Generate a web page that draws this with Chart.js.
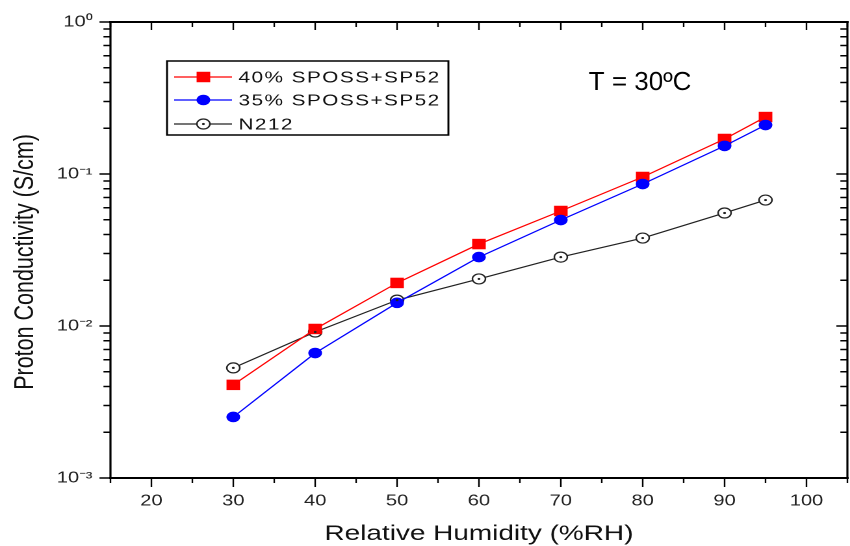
<!DOCTYPE html>
<html>
<head>
<meta charset="utf-8">
<script src="https://cdn.jsdelivr.net/npm/chart.js@4/dist/chart.umd.min.js"></script>
<style>
  html, body { margin: 0; background: #fff; }
</style>
</head>
<body>
<!-- the figure is a bit stretched sideways, so draw narrow and widen with an inline style -->
<canvas id="chart" width="654" height="546" style="width:850px;height:546px;display:block"></canvas>
<script>
const humidity = [30, 40, 50, 60, 70, 80, 90, 95]
const sposs40 = [0.0041, 0.00956, 0.0192, 0.0346, 0.0571, 0.0956, 0.170, 0.237]
const sposs35 = [0.00252, 0.00664, 0.0142, 0.0284, 0.0498, 0.0859, 0.153, 0.210]
const n212 = [0.0053, 0.00913, 0.0148, 0.0204, 0.0284, 0.0379, 0.0554, 0.0674]

const xTickValues = [15, 20, 25, 30, 35, 40, 45, 50, 55, 60, 65, 70, 75, 80, 85, 90, 95, 100, 105]
const yDecades = [0.001, 0.01, 0.1, 1]
const yTickLabels = ['10\u207B\u00B3', '10\u207B\u00B2', '10\u207B\u00B9', '10\u2070']
const note = 'T = 30\u00BAC'
const noteAt = [73.4, 0.357]

const FONT = "'Liberation Sans', Arial, sans-serif"

const yTickValues = yDecades.flatMap((d) =>
  d === 1 ? [1] : [1, 2, 3, 4, 5, 6, 7, 8, 9].map((m) => m * d)
)
const decadeIndex = (v) => yDecades.findIndex((d) => Math.abs(v - d) / d < 1e-9)

const points = (ys) => humidity.map((h, i) => ({ x: h, y: ys[i] }))

// open circle with a dot in the middle (N212 markers)
const centerDots = {
  id: 'centerDots',
  afterDatasetsDraw(chart) {
    const { ctx } = chart
    chart.data.datasets.forEach((ds, i) => {
      if (!ds.centerDot) return
      ctx.save()
      ctx.fillStyle = ds.borderColor
      chart.getDatasetMeta(i).data.forEach((p) => {
        ctx.beginPath()
        ctx.arc(p.x, p.y, 1.1, 0, Math.PI * 2)
        ctx.fill()
      })
      ctx.restore()
    })
  },
}

function drawMarker(ctx, ds, x, y) {
  ctx.fillStyle = ds.pointBackgroundColor
  ctx.strokeStyle = ds.pointBorderColor
  ctx.lineWidth = ds.pointBorderWidth
  ctx.beginPath()
  if (ds.pointStyle === 'rect') {
    const h = ds.pointRadius * Math.SQRT1_2
    ctx.rect(x - h, y - h, h * 2, h * 2)
  } else {
    ctx.arc(x, y, ds.pointRadius, 0, Math.PI * 2)
  }
  ctx.fill()
  if (ds.pointBorderWidth) ctx.stroke()
  if (ds.centerDot) {
    ctx.fillStyle = ds.borderColor
    ctx.beginPath()
    ctx.arc(x, y, 1.1, 0, Math.PI * 2)
    ctx.fill()
  }
}

const frame = {
  id: 'frame',
  afterDraw(chart) {
    const { ctx, chartArea: a, scales } = chart
    const x = scales.x
    const y = scales.y
    ctx.save()
    ctx.strokeStyle = '#000'

    ctx.lineWidth = 2
    ctx.beginPath()
    ctx.moveTo(a.left - 1, a.top); ctx.lineTo(a.right + 1, a.top)
    ctx.moveTo(a.left - 1, a.bottom); ctx.lineTo(a.right + 1, a.bottom)
    ctx.stroke()
    ctx.lineWidth = 1.6
    ctx.beginPath()
    ctx.moveTo(a.left, a.top); ctx.lineTo(a.left, a.bottom)
    ctx.moveTo(a.right, a.top); ctx.lineTo(a.right, a.bottom)
    ctx.stroke()

    // bottom ticks point out, top ticks point in
    ctx.lineWidth = 1.2
    ctx.beginPath()
    x.ticks.forEach((t) => {
      const px = x.getPixelForValue(t.value)
      const major = t.value % 10 === 0
      ctx.moveTo(px, a.bottom); ctx.lineTo(px, a.bottom + (major ? 9 : 5))
      ctx.moveTo(px, a.top); ctx.lineTo(px, a.top + (major ? 8 : 5))
    })
    ctx.stroke()

    // left ticks out, right ticks in
    ctx.lineWidth = 1.5
    ctx.beginPath()
    y.ticks.forEach((t) => {
      const py = y.getPixelForValue(t.value)
      const len = decadeIndex(t.value) >= 0 ? 8.5 : 5.4
      ctx.moveTo(a.left, py); ctx.lineTo(a.left - len, py)
      ctx.moveTo(a.right, py); ctx.lineTo(a.right - len, py)
    })
    ctx.stroke()

    // legend
    const box = { left: a.left + 43.5, top: a.top + 39, right: a.left + 260, bottom: a.top + 113 }
    ctx.lineWidth = 1.5
    ctx.strokeRect(box.left, box.top, box.right - box.left, box.bottom - box.top)
    const rows = [16, 39, 63]
    ctx.font = `16px ${FONT}`
    ctx.textBaseline = 'middle'
    ctx.letterSpacing = '1.1px'
    chart.data.datasets.forEach((ds, i) => {
      const ry = box.top + rows[i]
      ctx.strokeStyle = ds.borderColor
      ctx.lineWidth = ds.borderWidth
      ctx.beginPath()
      ctx.moveTo(box.left + 5.5, ry)
      ctx.lineTo(box.left + 50, ry)
      ctx.stroke()
      drawMarker(ctx, ds, box.left + 28, ry)
      ctx.fillStyle = '#111'
      ctx.fillText(ds.label, box.left + 55, ry + 1)
    })
    ctx.letterSpacing = '0px'

    // temperature note, not stretched in the original
    const nx = x.getPixelForValue(noteAt[0])
    const ny = y.getPixelForValue(noteAt[1])
    ctx.translate(nx, ny)
    ctx.scale(chart.width / chart.canvas.clientWidth, 1)
    ctx.font = `26px ${FONT}`
    ctx.textBaseline = 'alphabetic'
    ctx.fillStyle = '#000'
    ctx.fillText(note, 0, 0)
    ctx.restore()
  },
}

new Chart(document.getElementById('chart'), {
  type: 'line',
  data: {
    datasets: [
      {
        label: '40% SPOSS+SP52',
        data: points(sposs40),
        borderColor: '#ff0000',
        borderWidth: 1.2,
        pointStyle: 'rect',
        pointRadius: 7.4,
        pointBackgroundColor: '#ff0000',
        pointBorderColor: '#ff0000',
        pointBorderWidth: 0,
        order: 1,
      },
      {
        label: '35% SPOSS+SP52',
        data: points(sposs35),
        borderColor: '#0000ff',
        borderWidth: 1.2,
        pointStyle: 'circle',
        pointRadius: 5.3,
        pointBackgroundColor: '#0000ff',
        pointBorderColor: '#0000ff',
        pointBorderWidth: 0,
        order: 0,
      },
      {
        label: 'N212',
        data: points(n212),
        borderColor: '#222222',
        borderWidth: 1.2,
        pointStyle: 'circle',
        pointRadius: 5,
        pointBackgroundColor: '#ffffff',
        pointBorderColor: '#222222',
        pointBorderWidth: 1.2,
        centerDot: true,
        order: 2,
      },
    ],
  },
  options: {
    responsive: false,
    devicePixelRatio: 2,
    animation: false,
    events: [],
    // no auto padding for the big markers, the frame goes to the right edge
    layout: { autoPadding: false, padding: { left: 0, right: 2, top: 22, bottom: 0 } },
    plugins: {
      legend: { display: false },
      tooltip: { enabled: false },
    },
    scales: {
      x: {
        type: 'linear',
        min: 15,
        max: 105,
        afterBuildTicks: (s) => { s.ticks = xTickValues.map((v) => ({ value: v })) },
        afterFit: (s) => {
          s.height = 68
          s.paddingLeft = 0
          s.paddingRight = 0
        },
        grid: { display: false, drawTicks: false },
        border: { display: false },
        ticks: {
          autoSkip: false,
          maxRotation: 0,
          padding: 14,
          color: '#222',
          font: { family: FONT, size: 15.5 },
          callback: (v) => (v % 10 === 0 ? String(v) : ''),
        },
        title: {
          display: true,
          text: 'Relative Humidity (%RH)',
          color: '#111',
          font: { family: FONT, size: 21.5, lineHeight: 1.1 },
          padding: { top: 0, bottom: 0 },
        },
      },
      y: {
        type: 'logarithmic',
        min: 0.001,
        max: 1,
        afterBuildTicks: (s) => { s.ticks = yTickValues.map((v) => ({ value: v })) },
        afterFit: (s) => {
          s.width = 85
          s.paddingTop = 0
          s.paddingBottom = 0
        },
        grid: { display: false, drawTicks: false },
        border: { display: false },
        ticks: {
          autoSkip: false,
          padding: 14,
          color: '#222',
          font: { family: FONT, size: 15.5 },
          callback: (v) => {
            const i = decadeIndex(v)
            return i >= 0 ? yTickLabels[i] : ''
          },
        },
        title: {
          display: true,
          // trailing spaces push the title a little down, as in the figure
          text: 'Proton Conductivity (S/cm)    ',
          color: '#111',
          font: { family: FONT, size: 21.5, lineHeight: 1.1 },
          padding: { top: 8, bottom: 0 },
        },
      },
    },
  },
  plugins: [centerDots, frame],
})
</script>
</body>
</html>
